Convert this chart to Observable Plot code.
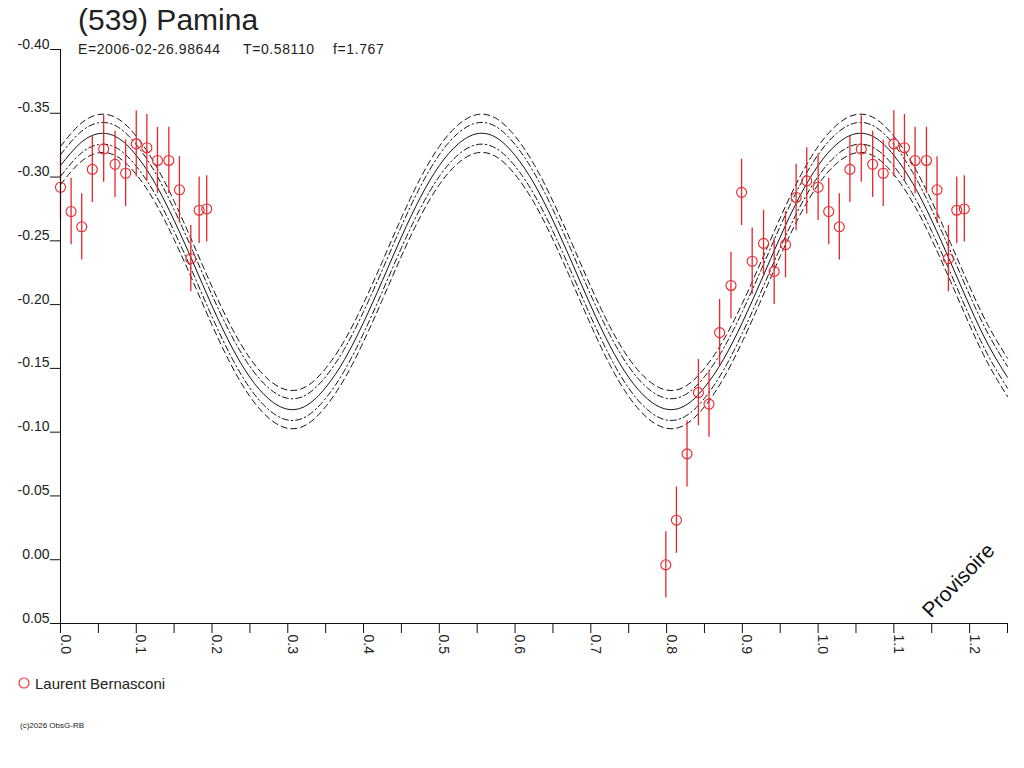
<!DOCTYPE html>
<html><head><meta charset="utf-8">
<script src="https://cdn.jsdelivr.net/npm/d3@7"></script>
<script src="https://cdn.jsdelivr.net/npm/@observablehq/plot@0.6"></script>
<style>
body{margin:0;background:#fff;font-family:"Liberation Sans",Arial,sans-serif;}
#wrap{position:relative;width:1024px;height:768px;overflow:hidden;background:#fff}
#wrap svg{position:absolute;left:0;top:0}
.t{position:absolute;white-space:pre;line-height:1;color:#222;font-family:"Liberation Sans",Arial,sans-serif}
</style></head><body>
<div id="wrap"></div>
<script>
// ---- data ----
const titleText = "(539) Pamina";
const subEpoch = "E=2006-02-26.98644";
const subPeriod = "T=0.58110";
const subF = "f=1.767";
const observer = "Laurent Bernasconi";
const copyright = "(c)2026 ObsG-RB";
const stamp = "Provisoire";

const obsPhase = [0.000, 0.014, 0.028, 0.042, 0.057, 0.072, 0.086, 0.100, 0.114, 0.128, 0.143, 0.157, 0.172, 0.183, 0.193,
                  0.799, 0.813, 0.827, 0.842, 0.856, 0.870, 0.885, 0.899, 0.913, 0.928, 0.942, 0.957, 0.971, 0.985];
const obsMag   = [-0.292, -0.273, -0.261, -0.306, -0.322, -0.310, -0.303, -0.326, -0.323, -0.313, -0.313, -0.290, -0.236, -0.274, -0.275,
                  0.004, -0.031, -0.083, -0.131, -0.122, -0.178, -0.215, -0.288, -0.234, -0.248, -0.226, -0.247, -0.284, -0.297];
const obsErr   = [0.026, 0.026, 0.026, 0.026, 0.026, 0.026, 0.026, 0.026, 0.026, 0.026, 0.026, 0.026, 0.026, 0.026, 0.026,
                  0.026, 0.026, 0.026, 0.026, 0.026, 0.026, 0.026, 0.026, 0.026, 0.026, 0.026, 0.026, 0.026, 0.026];

const fitPhase = [0.000,0.025,0.050,0.075,0.100,0.125,0.150,0.175,0.200,0.225,0.250,0.275,0.300,0.325,0.350,0.375,0.400,0.425,0.450,0.475,
                  0.500,0.525,0.550,0.575,0.600,0.625,0.650,0.675,0.700,0.725,0.750,0.775,0.800,0.825,0.850,0.875,0.900,0.925,0.950,0.975,
                  1.000,1.025,1.050,1.075,1.100,1.125,1.150,1.175,1.200,1.225,1.250];
const fitMag = [-0.309,-0.326,-0.334,-0.331,-0.317,-0.295,-0.266,-0.233,-0.199,-0.168,-0.143,-0.126,-0.118,-0.121,-0.135,-0.157,-0.186,-0.219,-0.253,-0.284,
                -0.309,-0.326,-0.334,-0.331,-0.317,-0.295,-0.266,-0.233,-0.199,-0.168,-0.143,-0.126,-0.118,-0.121,-0.135,-0.157,-0.186,-0.219,-0.253,-0.284,
                -0.309,-0.326,-0.334,-0.331,-0.317,-0.295,-0.266,-0.233,-0.199,-0.168,-0.143];
const bandOffsets = [-0.015, -0.0085, 0, 0.0085, 0.015];

const yTicks = [-0.40, -0.35, -0.30, -0.25, -0.20, -0.15, -0.10, -0.05, 0.00, 0.05];
const xMajorTicks = [0.0, 0.1, 0.2, 0.3, 0.4, 0.5, 0.6, 0.7, 0.8, 0.9, 1.0, 1.1, 1.2];
const xMinorTicks = [0.05, 0.15, 0.25, 0.35, 0.45, 0.55, 0.65, 0.75, 0.85, 0.95, 1.05, 1.15, 1.25];
const xDomain = [0, 1.25];
const yDomain = [0.05, -0.40];

// ---- build tables ----
const RED = "#e8262b";
const rows = [];
obsPhase.forEach((p, i) => {
  rows.push({phase: p, mag: obsMag[i], err: obsErr[i]});
  if (p < xDomain[1] - 1) rows.push({phase: p + 1, mag: obsMag[i], err: obsErr[i]});
});
const dashFor = o => o === 0 ? null : (Math.abs(o) > 0.01 ? "6,4" : "6,3,1.5,3");
const bandLines = bandOffsets.map(o => Plot.line(fitPhase.map((p, i) => ({phase: p, mag: fitMag[i] + o})), {
  x: "phase", y: "mag", stroke: "#111", strokeWidth: 1, curve: "natural",
  strokeDasharray: dashFor(o)
}));

const chart = Plot.plot({
  width: 1024, height: 660,
  marginLeft: 60, marginRight: 17, marginTop: 49, marginBottom: 37,
  style: {fontFamily: "'Liberation Sans', Arial, sans-serif", fontSize: "14px", color: "#111", background: "transparent"},
  x: {domain: xDomain, label: null},
  y: {domain: yDomain, label: null},
  marks: [
    ...bandLines,
    Plot.ruleX(rows, {x: "phase", y1: d => d.mag - d.err, y2: d => d.mag + d.err, stroke: RED, strokeWidth: 1.3}),
    Plot.dot(rows, {x: "phase", y: "mag", r: 5, stroke: RED, fill: "none", strokeWidth: 1.1}),
    Plot.ruleX([xDomain[0]], {y1: yDomain[1], y2: yDomain[0], stroke: "#111"}),
    Plot.ruleY([yDomain[0]], {stroke: "#111"}),
    Plot.axisY({ticks: yTicks, tickSize: 10, tickFormat: () => "", label: null, stroke: "#111"}),
    Plot.axisX({ticks: xMajorTicks.concat(xMinorTicks), tickSize: 10, tickFormat: () => "", label: null, stroke: "#111"}),
    Plot.text(yTicks, {y: d => d, frameAnchor: "left", textAnchor: "end", lineAnchor: "bottom",
      dx: -11, dy: -1, text: d => d.toFixed(2), fontSize: 14, fill: "#222"}),
    Plot.text(xMajorTicks, {x: d => d, frameAnchor: "bottom", rotate: 90, textAnchor: "start", lineAnchor: "bottom",
      dy: 11, text: d => d.toFixed(1), fontSize: 14, fill: "#222"})
  ]
});
const wrap = document.getElementById("wrap");
wrap.appendChild(chart);

function addText(txt, left, top, size, extra) {
  const d = document.createElement("div");
  d.className = "t";
  d.textContent = txt;
  d.style.left = left + "px";
  d.style.top = top + "px";
  d.style.fontSize = size + "px";
  if (extra) Object.assign(d.style, extra);
  wrap.appendChild(d);
  return d;
}
addText(titleText, 78, 4.5, 30);
addText(subEpoch, 78, 42, 14, {letterSpacing: "0.6px"});
addText(subPeriod, 243, 42, 14, {letterSpacing: "0.6px"});
addText(subF, 333, 42, 14, {letterSpacing: "0.6px"});
addText(observer, 35, 675.5, 15);
addText(copyright, 20, 722, 8);
addText(stamp, 958, 580, 21, {transform: "translate(-50%,-50%) rotate(-46deg)", color: "#111"});

// legend symbol
const ns = "http://www.w3.org/2000/svg";
const lg = document.createElementNS(ns, "svg");
lg.setAttribute("width", "20"); lg.setAttribute("height", "20");
lg.style.position = "absolute"; lg.style.left = "14px"; lg.style.top = "673px";
const c = document.createElementNS(ns, "circle");
c.setAttribute("cx", "10"); c.setAttribute("cy", "10"); c.setAttribute("r", "5");
c.setAttribute("fill", "none"); c.setAttribute("stroke", RED); c.setAttribute("stroke-width", "1.1");
lg.appendChild(c);
wrap.appendChild(lg);
</script>
</body></html>
